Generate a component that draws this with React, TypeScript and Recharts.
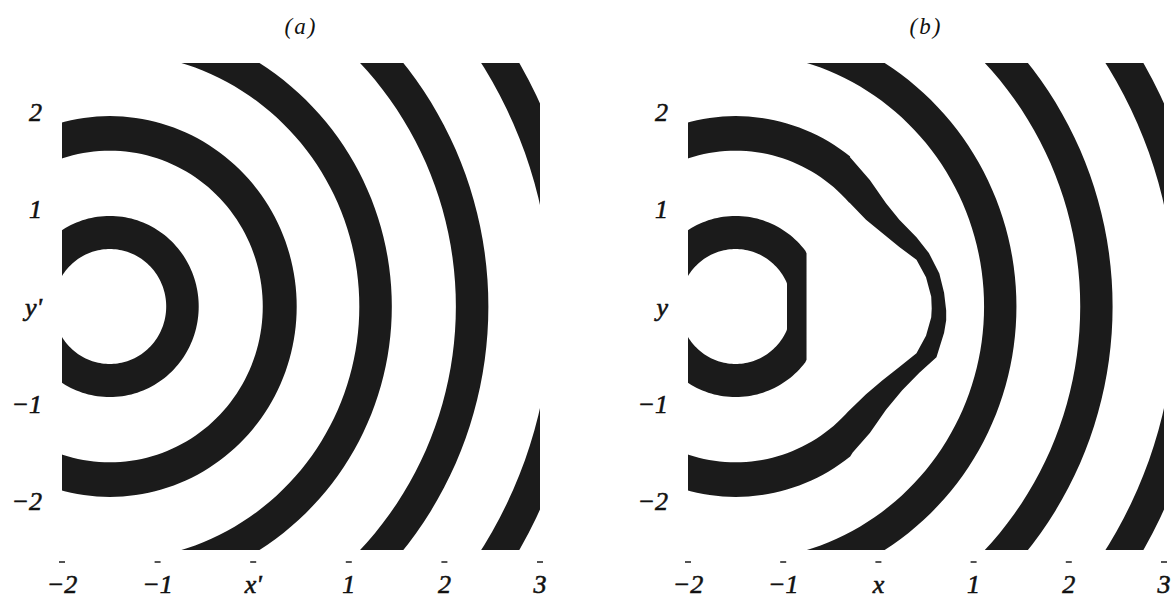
import React from 'react';
import { ScatterChart, Scatter, XAxis, YAxis } from 'recharts';

const INK = '#1b1b1b';

// point the wavefronts spread from (same in both panels)
const sourceX = -1.5;
const sourceY = 0;

// dark bands: inner / outer radius
const bandInner = [0.59, 1.6, 2.61, 3.62, 4.62];
const bandOuter = [0.93, 1.955, 2.95, 3.96, 4.96];

// panel (b): first band is flattened on its right side at these x values
const firstCutInner = -0.96;
const firstCutOuter = -0.755;

// panel (b): second band pulled out into a nose, traced bottom -> top
const noseOuterX = [-0.27, -0.09, 0.08, 0.25, 0.43, 0.61, 0.69, 0.712, 0.712, 0.69, 0.64, 0.53, 0.4, 0.22, 0.08, -0.09, -0.3];
const noseOuterY = [-1.5, -1.3, -1.06, -0.86, -0.68, -0.52, -0.27, -0.14, -0.04, 0.14, 0.34, 0.55, 0.71, 0.89, 1.06, 1.3, 1.535];
const noseInnerX = [-0.32, -0.13, 0.04, 0.22, 0.4, 0.5, 0.555, 0.56, 0.555, 0.5, 0.4, 0.22, 0.04, -0.13, -0.3];
const noseInnerY = [-1.08, -0.9, -0.76, -0.62, -0.48, -0.3, -0.11, -0.02, 0.1, 0.3, 0.48, 0.61, 0.755, 0.89, 1.063];

const xTicks = [-2, -1, 0, 1, 2, 3];
const yTicks = [-2, -1, 0, 1, 2];
const xLabelsA = ['\u22122', '\u22121', "x'", '1', '2', '3'];
const yLabelsA = ['\u22122', '\u22121', "y'", '1', '2'];
const xLabelsB = ['\u22122', '\u22121', 'x', '1', '2', '3'];
const yLabelsB = ['\u22122', '\u22121', 'y', '1', '2'];

type Pt = { x: number; y: number };

const zip = (xs: number[], ys: number[]): Pt[] => xs.map((x, i) => ({ x, y: ys[i] }));
const angleOf = (p: Pt) => (Math.atan2(p.y - sourceY, p.x - sourceX) * 180) / Math.PI;

// one edge of a band, counter-clockwise from the far left
function edge(r: number, trace?: Pt[], cutX?: number): Pt[] {
  const a0 = trace ? angleOf(trace[0]) : 999;
  const a1 = trace ? angleOf(trace[trace.length - 1]) : 999;
  const pts: Pt[] = [];
  let done = false;
  for (let d = -180; d <= 180; d += 2) {
    if (trace && d > a0 && d < a1) {
      if (!done) {
        pts.push(...trace);
        done = true;
      }
      continue;
    }
    const t = (d * Math.PI) / 180;
    let x = sourceX + r * Math.cos(t);
    if (cutX !== undefined) x = Math.min(x, cutX);
    pts.push({ x, y: sourceY + r * Math.sin(t) });
  }
  return pts;
}

const band = (outer: Pt[], inner: Pt[]) => [...outer, ...inner.slice().reverse()];

const bandsA = bandOuter.map((ro, i) => band(edge(ro), edge(bandInner[i])));
const bandsB = bandOuter.map((ro, i) => {
  if (i === 0) return band(edge(ro, undefined, firstCutOuter), edge(bandInner[i], undefined, firstCutInner));
  if (i === 1) return band(edge(ro, zip(noseOuterX, noseOuterY)), edge(bandInner[i], zip(noseInnerX, noseInnerY)));
  return band(edge(ro), edge(bandInner[i]));
});

const font = "'Liberation Serif', 'Times New Roman', serif";

const XTick = (props: any) => {
  const { x, y, payload, labels } = props;
  const i = xTicks.indexOf(payload.value);
  return (
    <g>
      <line x1={x - 3} x2={x + 3} y1={y + 12} y2={y + 12} stroke={INK} strokeWidth={1.5} />
      <text
        x={x}
        y={y + 43}
        textAnchor="middle"
        fontFamily={font}
        fontStyle="italic"
        fontSize={26}
        fill="#111"
        stroke="#111"
        strokeWidth={0.6}
      >
        {labels[i]}
      </text>
    </g>
  );
};

const YTick = (props: any) => {
  const { x, y, payload, labels } = props;
  const i = yTicks.indexOf(payload.value);
  return (
    <text
      x={x - 20}
      y={y + 9}
      textAnchor="end"
      fontFamily={font}
      fontStyle="italic"
      fontSize={26}
      fill="#111"
      stroke="#111"
      strokeWidth={0.6}
    >
      {labels[i]}
    </text>
  );
};

const Empty = () => <g />;

interface PanelProps {
  left: number;
  width: number;
  marginLeft: number;
  marginRight: number;
  bands: Pt[][];
  xLabels: string[];
  yLabels: string[];
  title: string;
}

const Panel = ({ left, width, marginLeft, marginRight, bands, xLabels, yLabels, title }: PanelProps) => {
  const plotMid = marginLeft + 50 + (width - marginLeft - 50 - marginRight) / 2;
  return (
    <div style={{ position: 'absolute', left, top: 0, width, height: 598 }}>
      <div
        style={{
          position: 'absolute',
          top: 13,
          left: plotMid,
          transform: 'translateX(-50%)',
          fontFamily: font,
          fontStyle: 'italic',
          fontSize: 23,
          letterSpacing: 2,
          lineHeight: '28px',
          color: '#111',
          whiteSpace: 'nowrap',
        }}
      >
        {title}
      </div>
      <ScatterChart width={width} height={598} margin={{ top: 63, right: marginRight, bottom: 8, left: marginLeft }}>
        <XAxis
          type="number"
          dataKey="x"
          domain={[-2, 3]}
          allowDataOverflow
          ticks={xTicks}
          axisLine={false}
          tickLine={false}
          tickSize={0}
          tickMargin={0}
          height={40}
          interval={0}
          tick={(p: any) => <XTick {...p} labels={xLabels} />}
        />
        <YAxis
          type="number"
          dataKey="y"
          domain={[-2.5, 2.5]}
          allowDataOverflow
          ticks={yTicks}
          axisLine={false}
          tickLine={false}
          tickSize={0}
          tickMargin={0}
          width={50}
          interval={0}
          tick={(p: any) => <YTick {...p} labels={yLabels} />}
        />
        {bands.map((pts, i) => (
          <Scatter
            key={i}
            data={pts}
            fill={INK}
            line={{ fill: INK, stroke: 'none' }}
            lineType="joint"
            shape={Empty}
            legendType="none"
            isAnimationActive={false}
          />
        ))}
      </ScatterChart>
    </div>
  );
};

export default function App() {
  return (
    <div style={{ position: 'absolute', left: 0, top: 0, width: 1175, height: 598, background: '#fff' }}>
      <Panel left={0} width={587} marginLeft={12} marginRight={47} bands={bandsA} xLabels={xLabelsA} yLabels={yLabelsA} title="(a)" />
      <Panel left={600} width={575} marginLeft={38} marginRight={11} bands={bandsB} xLabels={xLabelsB} yLabels={yLabelsB} title="(b)" />
    </div>
  );
}
